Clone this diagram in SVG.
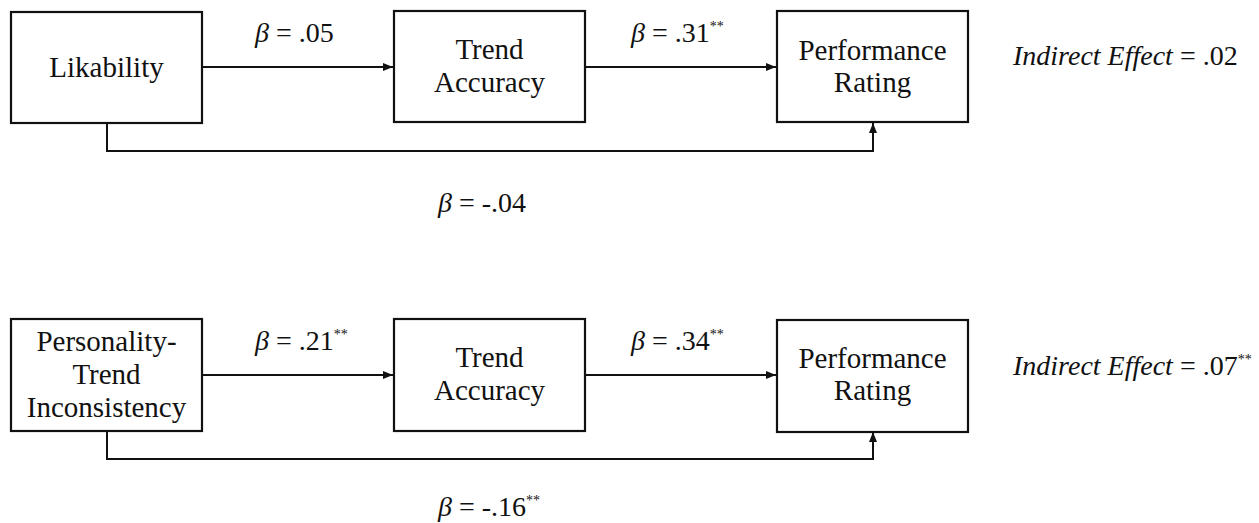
<svg xmlns="http://www.w3.org/2000/svg" width="1259" height="523" viewBox="0 0 1259 523">
<defs>
<style>
.box{fill:#fff;stroke:#111;stroke-width:2.2}
.line{fill:none;stroke:#111;stroke-width:2}
.nt{font-family:"Liberation Serif",serif;font-size:29px;fill:#111;text-anchor:middle}
.lbl{font-family:"Liberation Serif",serif;font-size:28px;fill:#111}
.it{font-style:italic}
.sup{font-size:14px}
</style>
<marker id="ah" markerUnits="userSpaceOnUse" markerWidth="10" markerHeight="8" refX="10" refY="4" orient="auto">
<path d="M0,0 L10,4 L0,8 Z" fill="#111"/>
</marker>
</defs>
<rect width="1259" height="523" fill="#fff"/>

<g id="connectors">
<line class="line" x1="202" y1="67" x2="393" y2="67" marker-end="url(#ah)"/>
<line class="line" x1="585" y1="67" x2="776" y2="67" marker-end="url(#ah)"/>
<polyline class="line" points="107,123 107,151 873,151 873,123" marker-end="url(#ah)"/>
<line class="line" x1="202" y1="375" x2="393" y2="375" marker-end="url(#ah)"/>
<line class="line" x1="585" y1="375" x2="776" y2="375" marker-end="url(#ah)"/>
<polyline class="line" points="107,431 107,459 873,459 873,432" marker-end="url(#ah)"/>
</g>

<g id="likability">
<rect class="box" x="11" y="12" width="191" height="111"/>
<text class="nt" x="106.5" y="77">Likability</text>
</g>
<g id="trend-accuracy-1">
<rect class="box" x="394" y="11" width="191" height="111"/>
<text class="nt" x="489.5" y="59">Trend</text>
<text class="nt" x="489.5" y="92">Accuracy</text>
</g>
<g id="performance-1">
<rect class="box" x="777" y="11" width="191" height="111"/>
<text class="nt" x="872.5" y="60">Performance</text>
<text class="nt" x="872.5" y="92">Rating</text>
</g>

<g id="personality">
<rect class="box" x="11" y="319" width="191" height="112"/>
<text class="nt" x="106.5" y="351">Personality-</text>
<text class="nt" x="106.5" y="384">Trend</text>
<text class="nt" x="106.5" y="417">Inconsistency</text>
</g>
<g id="trend-accuracy-2">
<rect class="box" x="394" y="319" width="191" height="112"/>
<text class="nt" x="489.5" y="367">Trend</text>
<text class="nt" x="489.5" y="400">Accuracy</text>
</g>
<g id="performance-2">
<rect class="box" x="777" y="320" width="191" height="112"/>
<text class="nt" x="872.5" y="368">Performance</text>
<text class="nt" x="872.5" y="400">Rating</text>
</g>

<g id="labels">
<text class="lbl" x="255" y="42"><tspan class="it">β</tspan> = .05</text>
<text class="lbl" x="631" y="42"><tspan class="it">β</tspan> = .31<tspan class="sup" dy="-11">**</tspan></text>
<text class="lbl" x="438" y="212"><tspan class="it">β</tspan> = -.04</text>
<text class="lbl" x="1013" y="65"><tspan class="it">Indirect Effect</tspan> = .02</text>
<text class="lbl" x="255" y="350"><tspan class="it">β</tspan> = .21<tspan class="sup" dy="-11">**</tspan></text>
<text class="lbl" x="631" y="350"><tspan class="it">β</tspan> = .34<tspan class="sup" dy="-11">**</tspan></text>
<text class="lbl" x="438" y="516"><tspan class="it">β</tspan> = -.16<tspan class="sup" dy="-11">**</tspan></text>
<text class="lbl" x="1013" y="375"><tspan class="it">Indirect Effect</tspan> = .07<tspan class="sup" dy="-11">**</tspan></text>
</g>
</svg>
